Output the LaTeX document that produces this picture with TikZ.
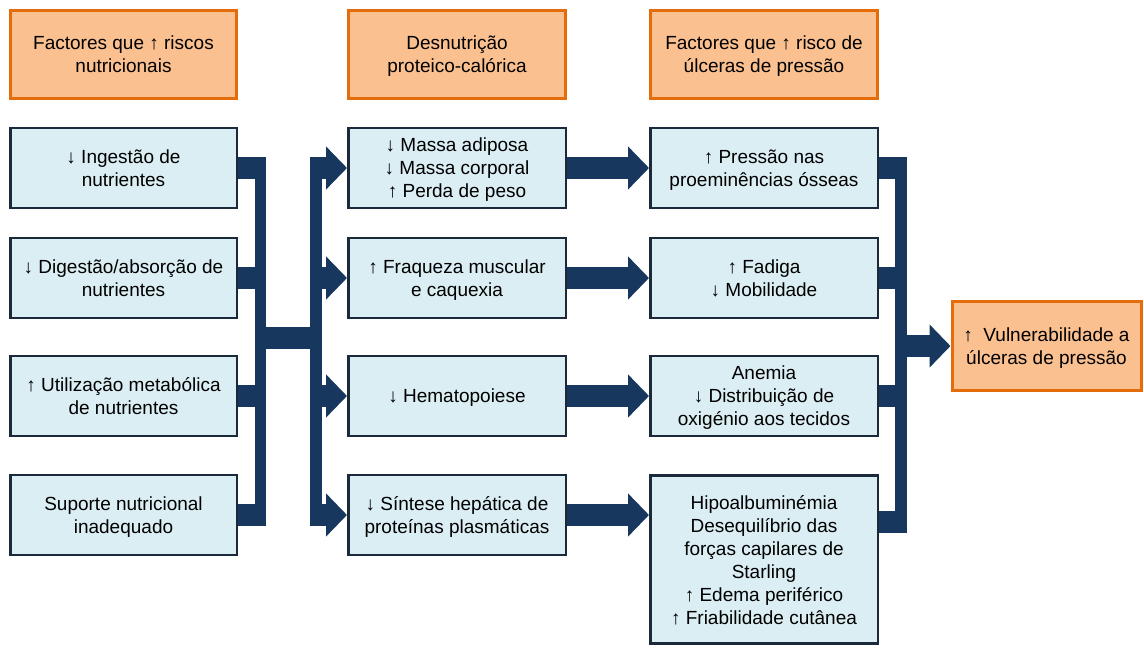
\documentclass[tikz,border=0pt]{standalone}
\usepackage{fontspec}
\setmainfont{Liberation Sans}
\usetikzlibrary{arrows.meta}
\definecolor{navy}{HTML}{17375E}
\definecolor{boxfill}{HTML}{DBEEF4}
\definecolor{boxline}{HTML}{1B2A3A}
\definecolor{orfill}{HTML}{FAC090}
\definecolor{orline}{HTML}{E46C0A}
\begin{document}
\begin{tikzpicture}[x=1pt,y=-1pt,
 box/.style={draw=boxline, line width=2.5pt, fill=boxfill, align=center, inner sep=0pt, font=\fontsize{19}{23}\selectfont, text=black, text depth=-4pt},
 hdr/.style={box, draw=orline, fill=orfill, line width=3pt},
 bar/.style={draw=navy, line width=11.5pt},
 blk/.style={draw=navy, line width=22pt},
 blkarrow/.style={blk, -{Triangle[width=42pt,length=21pt]}}]
\useasboundingbox (0,0) rectangle (1144,648);
% headers
\node[hdr, minimum width=226, minimum height=88] (h1) at (123.5,54.5) {Factores que ↑ riscos\\nutricionais};
\node[hdr, minimum width=217, minimum height=88] (h2) at (457,54.5) {Desnutrição\\proteico-calórica};
\node[hdr, minimum width=227, minimum height=88] (h3) at (764,54.5) {Factores que ↑ risco de\\úlceras de pressão};
% column 1
\node[box, minimum width=226.5, minimum height=80] (a1) at (123.5,168) {↓ Ingestão de\\nutrientes};
\node[box, minimum width=226.5, minimum height=80] (a2) at (123.5,278) {↓ Digestão/absorção de\\nutrientes};
\node[box, minimum width=226.5, minimum height=80] (a3) at (123.5,396) {↑ Utilização metabólica\\de nutrientes};
\node[box, minimum width=226.5, minimum height=80] (a4) at (123.5,515) {Suporte nutricional\\inadequado};
% column 2
\node[box, minimum width=217.5, minimum height=80] (b1) at (457,168) {↓ Massa adiposa\\↓ Massa corporal\\↑ Perda de peso};
\node[box, minimum width=217.5, minimum height=80] (b2) at (457,278) {↑ Fraqueza muscular\\e caquexia};
\node[box, minimum width=217.5, minimum height=80] (b3) at (457,396) {↓ Hematopoiese};
\node[box, minimum width=217.5, minimum height=80] (b4) at (457,515) {↓ Síntese hepática de\\proteínas plasmáticas};
% column 3
\node[box, minimum width=227.5, minimum height=80] (c1) at (764,168) {↑ Pressão nas\\proeminências ósseas};
\node[box, minimum width=227.5, minimum height=80] (c2) at (764,278) {↑ Fadiga\\↓ Mobilidade};
\node[box, minimum width=227.5, minimum height=80] (c3) at (764,396) {Anemia\\↓ Distribuição de\\oxigénio aos tecidos};
\node[box, minimum width=227.5, minimum height=168] (c4) at (764,559.5) {Hipoalbuminémia\\Desequilíbrio das\\forças capilares de\\Starling\\↑ Edema periférico\\↑ Friabilidade cutânea};
% final
\node[hdr, minimum width=189, minimum height=89] (d) at (1046.5,346) {↑\ \ Vulnerabilidade a\\úlceras de pressão};
% junction points
\coordinate (jL) at (260.5,337.5);
\coordinate (jR) at (316,337.5);
\coordinate (jF) at (901,343);
% left collector
\foreach \n in {a1,a2,a3,a4} \draw[blk] (\n.east) -- (\n.east -| jL);
\draw[bar] ([yshift=11pt]a1.east -| jL) -- ([yshift=-11pt]a4.east -| jL);
\draw[blk] ([xshift=-5pt]jL) -- ([xshift=5pt]jR);
\draw[bar] ([yshift=11pt]b1.west -| jR) -- ([yshift=-11pt]b4.west -| jR);
\foreach \n in {b1,b2,b3,b4} \draw[blkarrow] (\n.west -| jR) -- (\n.west);
% middle arrows
\foreach \i in {1,2,3} \draw[blkarrow] (b\i.east) -- (c\i.west);
\draw[blkarrow] (b4.east) -- (b4.east -| c4.west);
% right collector
\foreach \n in {c1,c2,c3} \draw[blk] (\n.east) -- (\n.east -| jF);
\draw[blk] ([yshift=38pt]c4.east) -- ([yshift=38pt]c4.east -| jF);
\draw[bar] ([yshift=11pt]c1.east -| jF) -- ([yshift=27pt]c4.east -| jF);
\draw[blkarrow] (d.west -| jF) -- (d.west);
\end{tikzpicture}
\end{document}
